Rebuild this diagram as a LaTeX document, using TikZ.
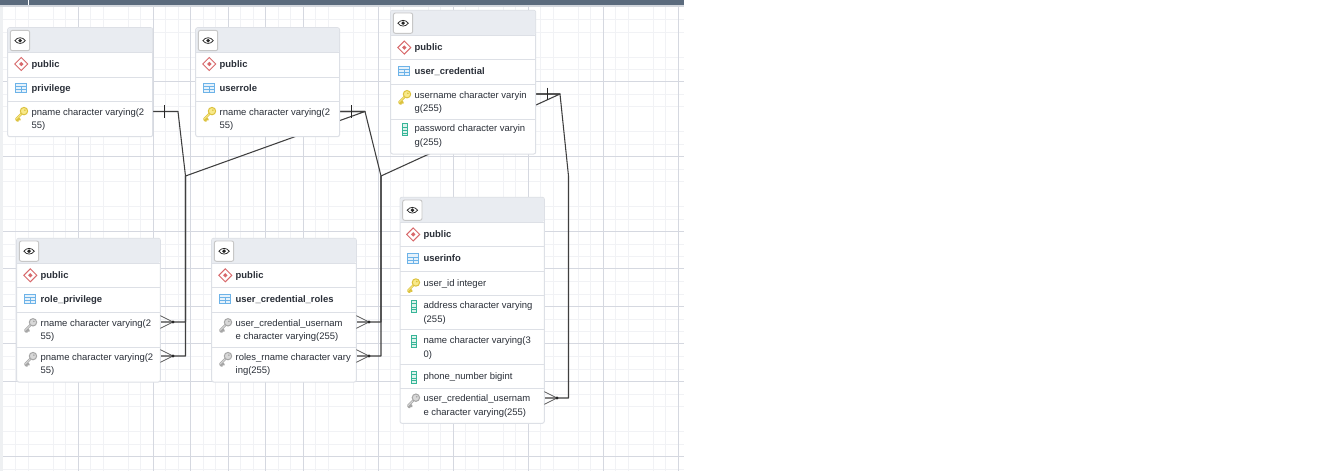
\documentclass[tikz,border=0pt]{standalone}
\usepackage{fontspec}
\setmainfont{Liberation Sans}
\definecolor{gridmaj}{HTML}{D5D8E0}
\definecolor{gridmin}{HTML}{F1F2F5}
\definecolor{barcol}{HTML}{5B6B7D}
\definecolor{barlow}{HTML}{D3D7DD}
\definecolor{stripcol}{HTML}{EEF0F2}
\definecolor{headcol}{HTML}{E9ECF1}
\definecolor{cardline}{HTML}{DDE0E6}
\definecolor{txtcol}{HTML}{2A2F38}
\definecolor{conncol}{HTML}{3F3F3F}
\definecolor{redicon}{HTML}{D8686B}
\definecolor{blueicon}{HTML}{6DB3E8}
\definecolor{blueiconfill}{HTML}{E6F2FB}
\definecolor{tealicon}{HTML}{37B598}
\definecolor{tealfill}{HTML}{DDF3EC}
\definecolor{goldout}{HTML}{DCC23F}
\definecolor{goldin}{HTML}{F8E98A}
\definecolor{grayout}{HTML}{A6A6A6}
\definecolor{grayin}{HTML}{D8D8D8}
\pgfdeclarelayer{conn}
\pgfsetlayers{conn,main}
\tikzset{
  gridmajor/.style={draw=gridmaj,line width=0.75pt},
  gridminor/.style={draw=gridmin,line width=0.75pt},
  cardbox/.style={draw=cardline,line width=0.75pt,fill=white,rounded corners=1.5pt,inner sep=0pt,outer sep=0pt},
  sepline/.style={draw=cardline,line width=0.7pt},
  coltext/.style={font=\fontsize{7.1}{10}\selectfont,text=txtcol,align=left,inner sep=0pt,anchor=north west},
  boldtext/.style={font=\fontsize{7.1}{10}\selectfont\bfseries,text=txtcol,inner sep=0pt,anchor=base west},
  connector/.style={draw=conncol,line width=0.8pt,line join=round},
  crowline/.style={draw=conncol!85,line width=0.6pt},
  tickline/.style={draw=black!85,line width=0.75pt},
}
\newcommand{\topstrut}{\rule{0pt}{7pt}}
\newcommand{\card}[5]{%
  \node[cardbox,minimum width={(#3-#2)*0.75pt},minimum height={(#5-#4)*0.75pt}] (#1) at ({(#2+#3)/2},{(#4+#5)/2}) {};
  \fill[headcol,rounded corners=1.2pt] ({#2+0.4},{#4+25}) -- ({#2+0.4},{#4+0.4}) -- ({#3-0.4},{#4+0.4}) -- ({#3-0.4},{#4+25}) [sharp corners] -- cycle;
  \draw[sepline] (#2,{#4+25}) -- (#3,{#4+25});
  \draw[draw=black!22,line width=0.7pt,fill=white,rounded corners=1.5pt] ({#2+2.7},{#4+2.7}) rectangle ({#2+22},{#4+23});
  \begin{scope}[shift={({#2+12.4},{#4+12.9})}]
    \draw[black!85,line width=0.55pt,fill=white] (-5.2,0) .. controls (-2.5,-3.8) and (2.5,-3.8) .. (5.2,0) .. controls (2.5,3.8) and (-2.5,3.8) .. (-5.2,0) -- cycle;
    \fill[black!85] (0,0) circle[radius=1.9];
  \end{scope}
}
\newcommand{\sepat}[3]{\draw[sepline] (#1,#3) -- (#2,#3);}
\newcommand{\schema}[3]{%
  \begin{scope}[shift={({#2+13.6},{#3-3})}]
    \draw[redicon,line width=0.7pt] (-6.5,0) -- (0,-6.5) -- (6.5,0) -- (0,6.5) -- cycle;
    \fill[redicon] (-2.2,0) -- (0,-2.2) -- (2.2,0) -- (0,2.2) -- cycle;
  \end{scope}
  \node[boldtext] (#1-schema) at ({#2+23.7},#3) {public};
}
\newcommand{\tname}[3]{%
  \begin{scope}[shift={({#2+13.6},{#3-3})}]
    \draw[blueicon,line width=0.7pt,fill=blueiconfill] (-5.4,-4.8) rectangle (5.4,4.8);
    \draw[blueicon,line width=0.55pt] (-5.4,-1.4) -- (5.4,-1.4) (-5.4,1.7) -- (5.4,1.7) (0,-1.4) -- (0,4.8);
  \end{scope}
  \node[boldtext] (#1-name) at ({#2+23.7},#3) {\detokenize{#1}};
}
\newcommand{\keyicon}[4]{%
  \begin{scope}[shift={(#1,#2)},scale=1.12]
    \draw[#3,line width=1.7pt,line cap=round] (0.5,-0.5) -- (-4.6,4.6) (-3.2,3.2) -- (-1.4,5) (-4.6,4.6) -- (-3.2,6);
    \draw[#4,line width=0.6pt,line cap=round] (0.5,-0.5) -- (-4.6,4.6);
    \fill[#4,draw=#3,line width=0.75pt] (2.4,-2.6) circle[radius=3.3];
    \fill[#3] (3.2,-3.4) circle[radius=0.8];
  \end{scope}
}
\newcommand{\colicon}[2]{%
  \begin{scope}[shift={(#1,#2)}]
    \draw[tealicon,line width=0.7pt,fill=tealfill] (-2.6,-6.2) rectangle (2.6,6.2);
    \draw[tealicon,line width=0.55pt] (-2.6,-2.6) -- (2.6,-2.6) (-2.6,0.6) -- (2.6,0.6) (-2.6,3.4) -- (2.6,3.4);
  \end{scope}
}
% #1 node name, #2 x0, #3 baseline, #4 text
\newcommand{\coltxt}[4]{\node[coltext] (#1) at ({#2+23.7},{#3-9.33}) {\topstrut #4};}
\newcommand{\pkrow}[4]{\keyicon{#2+13.6}{#3-1}{goldout}{goldin}\coltxt{#1}{#2}{#3}{#4}}
\newcommand{\fkrow}[4]{\keyicon{#2+13.6}{#3-1}{grayout}{grayin}\coltxt{#1}{#2}{#3}{#4}}
\newcommand{\plainrow}[4]{\colicon{#2+14}{#3-2}\coltxt{#1}{#2}{#3}{#4}}
\begin{document}
\begin{tikzpicture}[x=0.75pt,y=-0.75pt]
\useasboundingbox (0,0) rectangle (1325,471);
\begin{pgfonlayer}{conn}
\fill[white] (0,0) rectangle (1325,471);
\foreach \yy in {19,32,57,69,94,106,131,144,169,181,206,219,244,256,281,294,319,331,356,369,394,406,431,444,469}
  \draw[gridminor] (3,\yy) -- (684,\yy);
\foreach \xx in {15.5,28,53,65.5,90.5,103,128,140.5,165.5,178,203,215.5,240.5,253,278,290.5,315.5,328,353,365.5,390.5,403,428,440.5,465.5,478,503,515.5,540.5,553,578,590.5,615.5,628,653,665.5}
  \draw[gridminor] (\xx,6) -- (\xx,471);
\foreach \yy in {81,156,231,268,306,343,381,456}
  \draw[gridmajor] (3,\yy) -- (684,\yy);
\foreach \xx in {78,153,190.5,228,265.5,303,378,453,528,603,678}
  \draw[gridmajor] (\xx,6) -- (\xx,471);
\fill[stripcol] (0,0) rectangle (3,471);
\fill[barlow] (0,5) rectangle (684,7);
\fill[barcol] (0,0) rectangle (684,5);
\fill[white] (28,0) rectangle (29,5);
\end{pgfonlayer}

% tables
\card{privilege}{7.7}{152.7}{27.7}{136.7}
\sepat{7.7}{152.7}{77.3}\sepat{7.7}{152.7}{101.3}
\schema{privilege}{7.7}{67}\tname{privilege}{7.7}{91}
\pkrow{privilege-pname}{7.7}{115}{pname character varying(2\\55)}

\card{userrole}{195.7}{339.5}{27.7}{136.7}
\sepat{195.7}{339.5}{77.3}\sepat{195.7}{339.5}{101.3}
\schema{userrole}{195.7}{67}\tname{userrole}{195.7}{91}
\pkrow{userrole-rname}{195.7}{115}{rname character varying(2\\55)}

\card{user_credential}{390.7}{535.7}{10.3}{154}
\sepat{390.7}{535.7}{59.7}\sepat{390.7}{535.7}{84.3}\sepat{390.7}{535.7}{119.3}
\schema{user_credential}{390.7}{50.6}\tname{user_credential}{390.7}{74}
\pkrow{cred-username}{390.7}{98.1}{username character varyin\\g(255)}
\plainrow{cred-password}{390.7}{131.7}{password character varyin\\g(255)}

\card{role_privilege}{16.7}{160.3}{238.3}{382}
\sepat{16.7}{160.3}{287.3}\sepat{16.7}{160.3}{312.3}\sepat{16.7}{160.3}{347.3}
\schema{role_privilege}{16.7}{278.3}\tname{role_privilege}{16.7}{302}
\fkrow{rp-rname}{16.7}{326.2}{rname character varying(2\\55)}
\fkrow{rp-pname}{16.7}{360}{pname character varying(2\\55)}

\card{user_credential_roles}{211.7}{356.3}{238.3}{382}
\sepat{211.7}{356.3}{287.3}\sepat{211.7}{356.3}{312.3}\sepat{211.7}{356.3}{347.3}
\schema{user_credential_roles}{211.7}{278.3}\tname{user_credential_roles}{211.7}{302}
\fkrow{ucr-user}{211.7}{326.2}{user\_credential\_usernam\\e character varying(255)}
\fkrow{ucr-role}{211.7}{360}{roles\_rname character vary\\ing(255)}

\card{userinfo}{400}{544.3}{197.3}{423.3}
\sepat{400}{544.3}{246.3}\sepat{400}{544.3}{271.3}\sepat{400}{544.3}{295.3}\sepat{400}{544.3}{329.3}\sepat{400}{544.3}{364.3}\sepat{400}{544.3}{388.3}
\schema{userinfo}{399.6}{237.4}\tname{userinfo}{399.6}{261.4}
\pkrow{ui-id}{399.6}{286.4}{user\_id integer}
\plainrow{ui-address}{399.6}{308.4}{address character varying\\(255)}
\plainrow{ui-name}{399.6}{343.4}{name character varying(3\\0)}
\plainrow{ui-phone}{399.6}{379.4}{phone\_number bigint}
\fkrow{ui-cred}{399.6}{401.6}{user\_credential\_usernam\\e character varying(255)}

% connector anchors
\coordinate (pPriv) at (privilege.east |- 0,111.5);
\coordinate (pRole) at (userrole.east |- 0,111.5);
\coordinate (pCred) at (user_credential.east |- 0,94);
\coordinate (fRpR) at (role_privilege.east |- 0,322);
\coordinate (fRpP) at (role_privilege.east |- 0,356);
\coordinate (fUcrU) at (user_credential_roles.east |- 0,322);
\coordinate (fUcrR) at (user_credential_roles.east |- 0,356);
\coordinate (fUi) at (userinfo.east |- 0,398);
\coordinate (hubA) at (185.5,176);
\coordinate (hubB) at (381,176);
\coordinate (hubC) at (568.5,176);
\coordinate (elbowPriv) at (178,111.5);
\coordinate (elbowRole) at (365,111.5);
\coordinate (elbowCred) at (560,94);

\begin{pgfonlayer}{conn}
\draw[connector] (fRpP) -- (hubA |- fRpP) -- (hubA) -- (elbowPriv) -- (pPriv);
\draw[connector] (fRpR) -- (hubA |- fRpR) -- (hubA) -- (elbowRole) -- (pRole);
\draw[connector] (fUcrU) -- (hubB |- fUcrU) -- (hubB) -- (elbowCred) -- (pCred);
\draw[connector] (fUcrR) -- (hubB |- fUcrR) -- (hubB) -- (elbowRole) -- (pRole);
\draw[connector] (fUi) -- (hubC |- fUi) -- (hubC) -- (elbowCred) -- (pCred);
\end{pgfonlayer}

% one-ends
\foreach \c in {pPriv,pRole,pCred} \draw[tickline] (\c) ++(12.2,-6.3) -- ++(0,12.6);
% many-ends
\foreach \c in {fRpR,fRpP,fUcrU,fUcrR,fUi} {
  \draw[crowline] (\c) ++(0,-6.3) -- ++(12.7,6.3) -- ++(-12.7,6.3);
  \fill[black!85] (\c) ++(12.7,0) circle[radius=1.6];
}
\end{tikzpicture}
\end{document}
